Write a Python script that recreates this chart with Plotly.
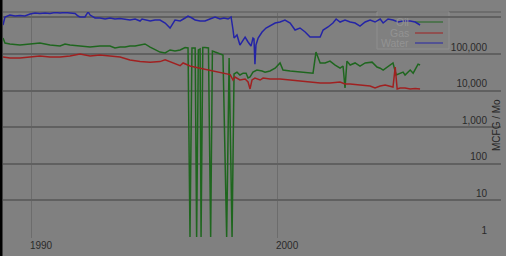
import plotly.graph_objects as go

# ---------------- data (decimal years, monthly volumes) ----------------
water_years = [1988.86, 1988.94, 1989.14, 1989.35, 1989.55, 1989.75, 1989.96, 1990.16, 1990.36, 1990.57,
               1990.77, 1990.97, 1991.18, 1991.38, 1991.58, 1991.79, 1991.91, 1991.99, 1992.19, 1992.32,
               1992.40, 1992.60, 1992.80, 1993.01, 1993.21, 1993.41, 1993.62, 1993.82, 1994.02, 1994.23,
               1994.43, 1994.51, 1994.63, 1994.84, 1995.04, 1995.24, 1995.45, 1995.65, 1995.85, 1996.06,
               1996.26, 1996.38, 1996.54, 1996.67, 1996.87, 1997.07, 1997.27, 1997.48, 1997.68, 1997.84,
               1998.01, 1998.13, 1998.21, 1998.25, 1998.37, 1998.49, 1998.62, 1998.70, 1998.82, 1998.94,
               1999.02, 1999.06, 1999.10, 1999.14, 1999.23, 1999.39, 1999.55, 1999.71, 1999.92, 2000.12,
               2000.32, 2000.53, 2000.73, 2000.93, 2001.14, 2001.34, 2001.54, 2001.75, 2001.87, 2002.07,
               2002.27, 2002.40, 2002.56, 2002.76, 2002.97, 2003.17, 2003.37, 2003.58, 2003.78, 2003.98,
               2004.19, 2004.31, 2004.51, 2004.71, 2004.92, 2005.12, 2005.41, 2005.61, 2005.81]
water_values = [620000, 1030000, 1160000, 1090000, 1120000, 1090000, 1240000, 1320000, 1280000, 1320000,
                1280000, 1360000, 1320000, 1360000, 1320000, 1280000, 1090000, 1030000, 1030000, 1410000,
                1160000, 964000, 964000, 904000, 964000, 904000, 934000, 904000, 849000, 904000,
                798000, 904000, 849000, 798000, 849000, 849000, 703000, 513000, 849000, 798000,
                964000, 1090000, 964000, 849000, 798000, 798000, 904000, 1030000, 904000, 964000,
                904000, 1030000, 453000, 274000, 330000, 176000, 241000, 291000, 213000, 165000,
                274000, 260000, 53000, 176000, 274000, 399000, 513000, 582000, 703000, 748000,
                849000, 703000, 453000, 513000, 399000, 291000, 291000, 291000, 453000, 547000,
                703000, 904000, 748000, 849000, 748000, 703000, 582000, 748000, 849000, 748000,
                904000, 703000, 904000, 849000, 748000, 798000, 798000, 748000, 620000]

gas_years = [1988.86, 1989.14, 1989.55, 1989.96, 1990.36, 1990.77, 1991.18, 1991.58, 1991.99, 1992.40,
             1992.80, 1993.21, 1993.62, 1994.02, 1994.43, 1994.84, 1995.24, 1995.45, 1995.65, 1996.06,
             1996.18, 1996.46, 1996.87, 1997.27, 1997.68, 1998.09, 1998.21, 1998.29, 1998.49, 1998.70,
             1998.82, 1998.90, 1998.98, 1999.10, 1999.31, 1999.43, 1999.71, 2000.12, 2000.53, 2000.93,
             2001.34, 2001.75, 2002.15, 2002.56, 2002.76, 2002.97, 2003.37, 2003.78, 2003.98, 2004.19,
             2004.39, 2004.59, 2004.71, 2004.80, 2004.88, 2005.00, 2005.20, 2005.41, 2005.61, 2005.81]
gas_values = [83000, 78000, 78000, 83000, 88000, 83000, 83000, 88000, 100000, 88000,
              94000, 88000, 83000, 69000, 62000, 60000, 62000, 69000, 62000, 48000,
              57000, 47000, 41000, 36500, 32000, 27500, 19500, 23500, 19500, 20700,
              17200, 11100, 19500, 22100, 19500, 22100, 20700, 20700, 19500, 18300,
              17200, 16100, 16100, 17200, 15100, 15100, 14200, 13400, 11800, 13400,
              14200, 13400, 12500, 44000, 11100, 11800, 11800, 11100, 11500, 11100]

oil_years = [1988.86, 1988.94, 1989.14, 1989.55, 1989.96, 1990.36, 1990.77, 1991.18, 1991.38, 1991.58,
             1991.99, 1992.40, 1992.80, 1993.21, 1993.41, 1993.62, 1993.82, 1994.02, 1994.23, 1994.63,
             1994.84, 1995.04, 1995.24, 1995.45, 1995.65, 1995.85, 1996.06, 1996.26, 1996.38, 1996.46,
             1996.54, 1996.67, 1996.73, 1996.80, 1996.87, 1996.91, 1996.98, 1997.07, 1997.21, 1997.30,
             1997.37, 1997.48, 1997.60, 1997.72, 1997.80, 1997.95, 1998.05, 1998.17, 1998.25, 1998.37,
             1998.49, 1998.62, 1998.74, 1998.82, 1998.90, 1999.02, 1999.18, 1999.39, 1999.51, 1999.71,
             1999.92, 2000.12, 2000.24, 2000.53, 2000.93, 2001.34, 2001.46, 2001.58, 2001.66, 2001.75,
             2001.95, 2002.15, 2002.36, 2002.56, 2002.68, 2002.76, 2002.84, 2002.97, 2003.17, 2003.37,
             2003.58, 2003.86, 2004.06, 2004.19, 2004.31, 2004.51, 2004.71, 2004.84, 2005.00, 2005.12,
             2005.20, 2005.41, 2005.53, 2005.65, 2005.73, 2005.81]
oil_values = [274000, 200000, 188000, 176000, 188000, 200000, 176000, 165000, 188000, 176000,
              165000, 155000, 165000, 165000, 146000, 155000, 155000, 165000, 165000, 188000,
              155000, 129000, 113000, 107000, 129000, 121000, 129000, 150000, 146000, 1,
              146000, 146000, 1, 129000, 137000, 1, 151000, 151000, 146000, 1,
              121000, 113000, 107000, 100000, 94000, 1, 78000, 1, 28400, 32000,
              26700, 30000, 30000, 22100, 23500, 32000, 36500, 34300, 32000, 34300,
              41000, 57000, 36500, 34300, 32000, 30000, 30000, 113000, 78000, 57000,
              57000, 64000, 50000, 41000, 47000, 11800, 64000, 50000, 57000, 47000,
              57000, 60000, 44000, 41000, 36500, 47000, 57000, 26700, 30000, 32000,
              26700, 36500, 30000, 41000, 53000, 50000]

series_names = ["Oil", "Gas", "Water"]
series_colors = ["#1e661e", "#a02020", "#2424a6"]

y_tickvals = [1, 10, 100, 1000, 10000, 100000, 1000000]
y_ticktext = ["1", "10", "100", "1,000", "10,000", "100,000", ""]
x_tickvals = [1990, 2000]
x_ticktext = ["1990", "2000"]
y_title = "MCFG / Mo"

FONT = "Liberation Sans, Arial, sans-serif"
BG = "#808080"

fig = go.Figure()
for name, xs, ys, col in [("Oil", oil_years, oil_values, series_colors[0]),
                          ("Gas", gas_years, gas_values, series_colors[1]),
                          ("Water", water_years, water_values, series_colors[2])]:
    fig.add_trace(go.Scatter(x=xs, y=ys, mode="lines", name=name,
                             line=dict(color=col, width=1.5), showlegend=False))

W, H = 506, 256
ML, MR, MT, MB = 3, 5, 12, 18
pw, ph = W - ML - MR, H - MT - MB


def px(xp):
    return (xp - ML) / pw


def py(yp):
    return (H - MB - yp) / ph


shapes = []
# black strip at the far left
shapes.append(dict(type="rect", xref="paper", yref="paper", x0=px(0), x1=px(2.5), y0=py(256), y1=py(0),
                   fillcolor="#000000", line=dict(width=0), layer="above"))
# top border line of plot
shapes.append(dict(type="line", xref="paper", yref="paper", x0=0, x1=1, y0=1, y1=1,
                   line=dict(color="#666666", width=1.5), layer="below"))
# legend box
shapes.append(dict(type="rect", xref="paper", yref="paper", x0=px(377), x1=px(449), y0=py(49), y1=py(12),
                   fillcolor="rgba(0,0,0,0)", line=dict(color="#8e8e8e", width=1), layer="below"))
annotations = []
rows_y = [22, 33, 43]
for name, col, ry in zip(series_names, series_colors, rows_y):
    shapes.append(dict(type="line", xref="paper", yref="paper", x0=px(415), x1=px(443), y0=py(ry), y1=py(ry),
                       line=dict(color=col, width=1), layer="below"))
    annotations.append(dict(xref="paper", yref="paper", x=px(411), y=py(ry), text=name, showarrow=False,
                            xanchor="right", yanchor="middle", font=dict(family=FONT, size=10.5, color="#939393")))

annotations.append(dict(xref="paper", yref="paper", x=px(496), y=py(125), text=y_title, textangle=-90,
                        showarrow=False, xanchor="center", yanchor="middle",
                        font=dict(family=FONT, size=10, color="#262626")))

fig.update_layout(
    width=W, height=H,
    margin=dict(l=ML, r=MR, t=MT, b=MB, pad=0),
    paper_bgcolor=BG, plot_bgcolor=BG,
    showlegend=False,
    shapes=shapes, annotations=annotations,
    font=dict(family=FONT, size=10, color="#2a2a2a"),
)
fig.update_xaxes(range=[1988.86, 2009.10], tickvals=x_tickvals, ticktext=x_ticktext,
                 showgrid=True, gridcolor="#6c6c6c", gridwidth=1, zeroline=False, showline=False,
                 ticks="", ticklabelshift=10, ticklabelstandoff=0, automargin=False,
                 tickfont=dict(family=FONT, size=10, color="#2a2a2a"))
fig.update_yaxes(type="log", range=[-0.027, 6.148], side="right", tickvals=y_tickvals, ticktext=y_ticktext,
                 showgrid=True, gridcolor="#606060", gridwidth=2, zeroline=False, showline=False,
                 ticks="", ticklabelposition="inside", ticklabelstandoff=11, ticklabelshift=-7,
                 ticklabeloverflow="allow", automargin=False,
                 tickfont=dict(family=FONT, size=10, color="#2a2a2a"))

fig.write_html("out.html", config={"displayModeBar": False},
               post_script="document.body.style.margin='0';document.body.style.padding='0';"
                           "document.body.style.overflow='hidden';document.body.style.background='#808080';")
